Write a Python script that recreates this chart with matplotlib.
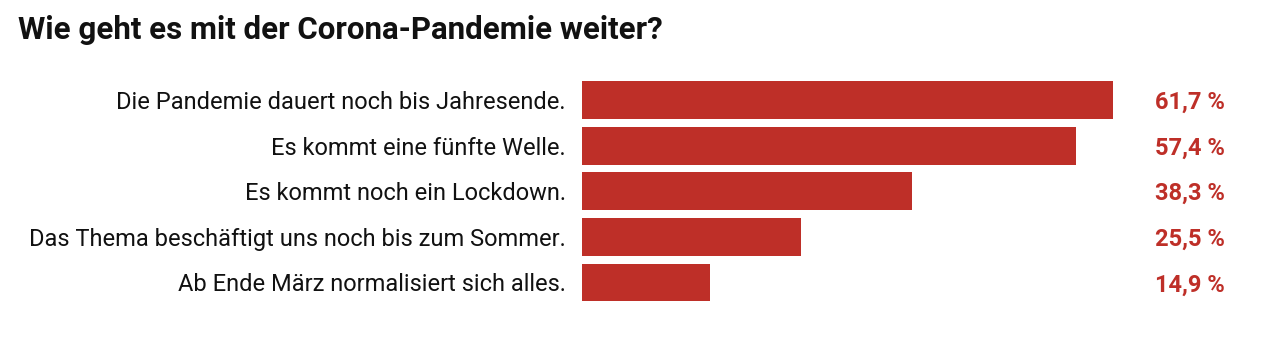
import matplotlib
matplotlib.use("Agg")
import matplotlib.pyplot as plt

categories = [
    "Die Pandemie dauert noch bis Jahresende.",
    "Es kommt eine fünfte Welle.",
    "Es kommt noch ein Lockdown.",
    "Das Thema beschäftigt uns noch bis zum Sommer.",
    "Ab Ende März normalisiert sich alles.",
]
values = [61.7, 57.4, 38.3, 25.5, 14.9]
value_labels = ["61,7 %", "57,4 %", "38,3 %", "25,5 %", "14,9 %"]
title = "Wie geht es mit der Corona-Pandemie weiter?"

red = "#be2f28"
fonts = ["Liberation Sans Narrow", "Roboto", "DejaVu Sans"]
plt.rcParams["font.family"] = fonts

W, H = 1268, 356
fig = plt.figure(figsize=(W / 100, H / 100), dpi=100)
# axes: left edge at bar start, px per percent ~8.606
px_per = 8.606
left = 582
xmax = 75
top_px, bot_px = 77.2, 305.3
ax = fig.add_axes([left / W, 1 - bot_px / H, xmax * px_per / W, (bot_px - top_px) / H])

ypos = list(range(len(categories)))
ax.barh(ypos, values, height=0.83, color=red)
ax.set_xlim(0, xmax)
ax.set_ylim(len(categories) - 0.5, -0.5)
ax.axis("off")

for y, cat, lab in zip(ypos, categories, value_labels):
    ax.text(-16 / px_per, y, cat, ha="right", va="center_baseline", fontsize=17,
            color="#111111")
    ax.text((1225 - left) / px_per, y, lab, ha="right", va="center_baseline",
            fontsize=17, fontweight="bold", color=red)

fig.text(18 / W, 1 - 30 / H, title, ha="left", va="center", fontsize=22.5,
         fontweight="bold", color="#111111")

fig.savefig("out.png", dpi=100, facecolor="white")
